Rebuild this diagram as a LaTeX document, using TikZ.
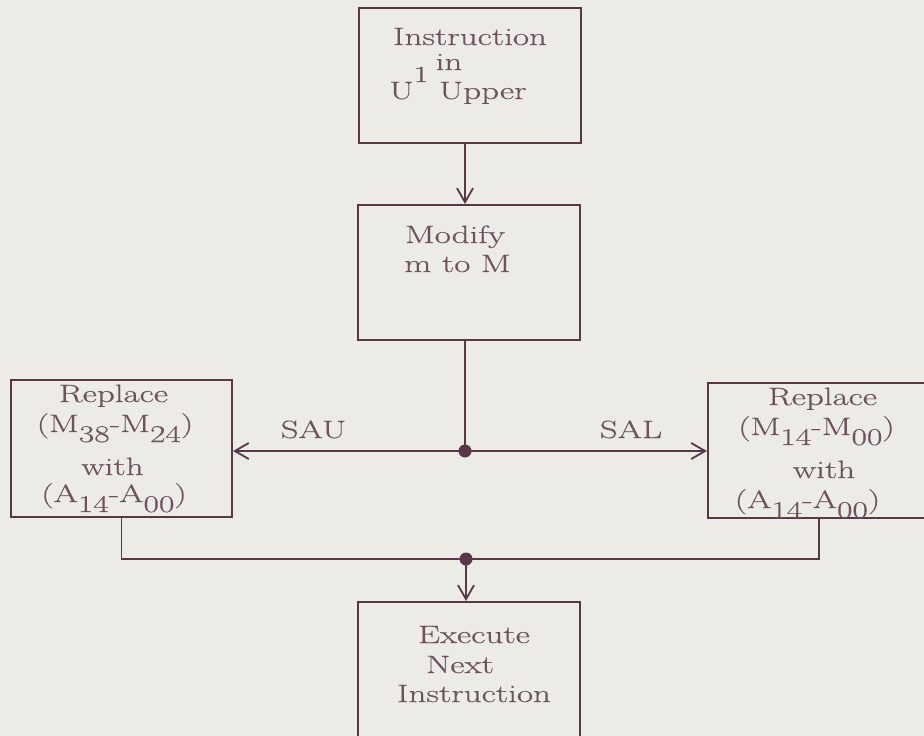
\documentclass[tikz,border=0pt]{standalone}
\usepackage{fontspec}
\setmainfont{Latin Modern Roman}[FakeStretch=1.4,FakeBold=0.4]
\usetikzlibrary{arrows.meta,calc}
\definecolor{paper}{RGB}{236,235,230}
\definecolor{ink}{RGB}{88,56,72}
\definecolor{txt}{RGB}{108,82,94}
\newcommand{\lo}[1]{\raisebox{-10pt}{\fontsize{24}{24}\selectfont #1}}
\newcommand{\hi}[1]{\raisebox{17pt}{\fontsize{23}{23}\selectfont #1}}
\begin{document}
\begin{tikzpicture}[x=1pt,y=-1pt,
 box/.style={draw=ink,line width=2pt,minimum width=222pt,minimum height=135pt,inner sep=0pt},
 ln/.style={text=txt,anchor=base,inner sep=0pt,font=\fontsize{25}{25}\selectfont},
 wire/.style={draw=ink,line width=1.8pt},
 arr/.style={wire,-{Straight Barb[length=14pt,width=16pt]}},
 dot/.style={circle,fill=ink,inner sep=0pt,minimum size=13pt}]
\fill[paper] (0,0) rectangle (924,736);
\useasboundingbox (0,0) rectangle (924,736);
% boxes
\node[box] (b1) at (470,75) {};
\node[box] (b2) at (469,272.5) {};
\node[box,minimum width=221pt,minimum height=137pt] (lb) at (121.5,448.5) {};
\node[box] (rb) at (819,450.5) {};
\node[box] (b4) at (469,669.5) {};
% junctions
\node[dot] (d1) at (465,451) {};
\node[dot] (d2) at (466,559) {};
\coordinate (vx) at (465,0);
% texts
\node[ln] (t1a) at (470,45) {Instruction};
\node[ln] (t1b) at (449,70) {in};
\node[ln] (t1c) at (458,99) {U\hi{1} Upper};
\node[ln] (t2a) at (455,243) {Modify};
\node[ln] (t2b) at (457.5,272) {m to M};
\node[ln] (l1) at (113.5,402) {Replace};
\node[ln] (l2) at (115,432) {(M\lo{38}-M\lo{24})};
\node[ln] (l3) at (112.5,475) {with};
\node[ln] (l4) at (114,502) {(A\lo{14}-A\lo{00})};
\node[ln] (r1) at (822.5,405) {Replace};
\node[ln] (r2) at (816.5,435) {(M\lo{14}-M\lo{00})};
\node[ln] (r3) at (824,478) {with};
\node[ln] (r4) at (807.5,508) {(A\lo{14}-A\lo{00})};
\node[ln] (sau) at (313.5,438) {SAU};
\node[ln] (sal) at (631,438) {SAL};
\node[ln] (e1) at (474,643) {Execute};
\node[ln] (e2) at (460,673) {Next};
\node[ln] (e3) at (474,702) {Instruction};
% connectors
\draw[arr] (b1.south -| vx) -- (b2.north -| vx);
\draw[wire] (b2.south -| vx) -- (d1.center);
\draw[arr] (d1.center) -- (d1 -| lb.east);
\draw[arr] (d1.center) -- (d1 -| rb.west);
\draw[wire] (lb.south) |- (d2.center);
\draw[wire] (rb.south) |- (d2.center);
\draw[arr] (d2.center) -- (d2 |- b4.north);
\end{tikzpicture}
\end{document}
